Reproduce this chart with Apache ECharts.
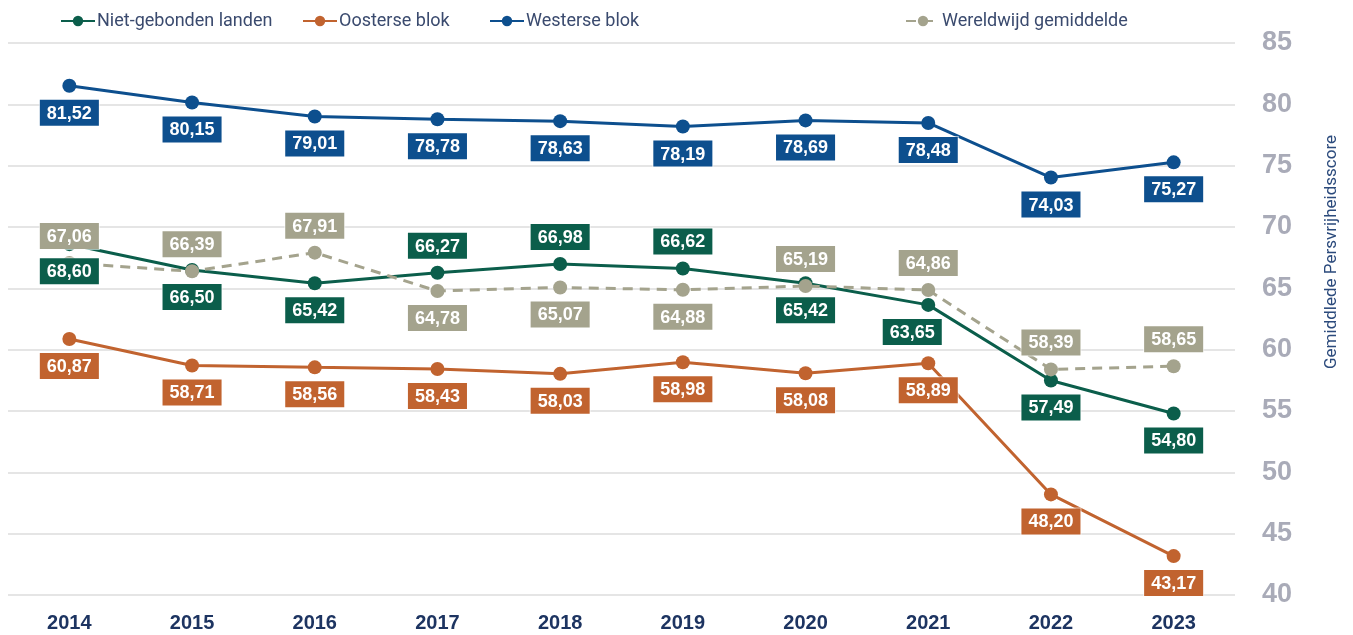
<!DOCTYPE html>
<html>
<head>
<meta charset="utf-8">
<script src="https://cdn.jsdelivr.net/npm/echarts@6/dist/echarts.min.js"></script>
<style>
  html, body { margin: 0; padding: 0; background: #fff; }
  #chart { width: 1353px; height: 635px; }
</style>
</head>
<body>
<div id="chart"></div>
<script>
// categorieën en waarden
const years = ['2014', '2015', '2016', '2017', '2018', '2019', '2020', '2021', '2022', '2023'];
const nietGebonden = [68.60, 66.50, 65.42, 66.27, 66.98, 66.62, 65.42, 63.65, 57.49, 54.80];
const oosterse = [60.87, 58.71, 58.56, 58.43, 58.03, 58.98, 58.08, 58.89, 48.20, 43.17];
const westerse = [81.52, 80.15, 79.01, 78.78, 78.63, 78.19, 78.69, 78.48, 74.03, 75.27];
const wereldwijd = [67.06, 66.39, 67.91, 64.78, 65.07, 64.88, 65.19, 64.86, 58.39, 58.65];

const chart = echarts.init(document.getElementById('chart'));

const narrow = "'Liberation Sans Narrow', 'Roboto', sans-serif";
const bold = "'Liberation Sans', Arial, sans-serif";
const fmt = v => v.toFixed(2).replace('.', ',');

// welke labels boven de punt staan (index per reeks)
const above = {
    'Niet-gebonden landen': [3, 4, 5],
    'Oosterse blok': [],
    'Westerse blok': [],
    'Wereldwijd gemiddelde': [0, 1, 2, 6, 7, 8, 9]
};

function makeSeries(name, values, color, dashed) {
    return {
        name: name,
        type: 'line',
        data: values.map((v, i) => {
            const item = { value: v };
            const pos = above[name].indexOf(i) >= 0 ? 'top' : 'bottom';
            item.label = { position: pos };
            if (name === 'Niet-gebonden landen' && i === 7) {
                item.label.offset = [-16, 0];
            }
            return item;
        }),
        symbol: 'circle',
        symbolSize: 14,
        lineStyle: { color: color, width: 3, type: dashed ? [10, 7] : 'solid' },
        itemStyle: { color: color },
        label: {
            show: true,
            distance: 7,
            formatter: p => fmt(p.value),
            color: '#fff',
            backgroundColor: color,
            fontFamily: bold,
            fontWeight: 'bold',
            fontSize: 18,
            padding: [5, 7, 3, 7],
            borderColor: 'rgba(255,255,255,0.6)',
            borderWidth: 1
        },
        emphasis: { disabled: true },
        z: 2
    };
}

function legendAt(name, left) {
    return {
        data: [name],
        top: 7,
        left: left,
        itemWidth: 34,
        itemHeight: 13,
        itemGap: 0,
        textStyle: { fontFamily: narrow, fontSize: 18, color: '#3a4a6e', padding: [0, 0, 0, -3] }
    };
}

const options = {
    animation: false,
    legend: [
        legendAt('Niet-gebonden landen', 55),
        legendAt('Oosterse blok', 297),
        legendAt('Westerse blok', 484),
        legendAt('Wereldwijd gemiddelde', 900)
    ],
    grid: { left: 8, right: 118, top: 43, bottom: 40 },
    xAxis: {
        type: 'category',
        data: years,
        boundaryGap: true,
        axisLine: { show: false },
        axisTick: { show: false },
        axisLabel: {
            margin: 18,
            fontFamily: bold,
            fontWeight: 'bold',
            fontSize: 20,
            color: '#1d3461'
        }
    },
    yAxis: {
        type: 'value',
        position: 'right',
        min: 40,
        max: 85,
        interval: 5,
        axisLine: { show: false },
        axisTick: { show: false },
        splitLine: { lineStyle: { color: '#e5e5e5', width: 2 } },
        axisLabel: {
            margin: 27,
            fontFamily: bold,
            fontWeight: 'bold',
            fontSize: 27,
            color: '#a9abb8'
        },
        name: 'Gemiddlede Persvrijheidsscore',
        nameLocation: 'middle',
        nameRotate: 90,
        nameGap: 88,
        nameTextStyle: {
            fontFamily: narrow,
            fontSize: 17,
            color: '#2b4a7c',
            padding: [0, 0, 0, 134]
        }
    },
    series: [
        makeSeries('Niet-gebonden landen', nietGebonden, '#0b5e4b', false),
        makeSeries('Oosterse blok', oosterse, '#c1632f', false),
        makeSeries('Westerse blok', westerse, '#0d4f8e', false),
        makeSeries('Wereldwijd gemiddelde', wereldwijd, '#a4a38d', true)
    ]
};

chart.setOption(options);
</script>
</body>
</html>
